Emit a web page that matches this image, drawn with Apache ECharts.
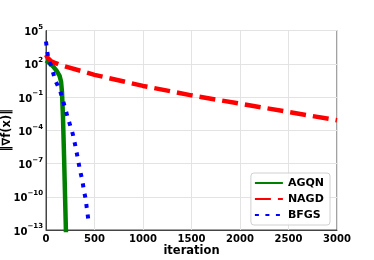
<!DOCTYPE html>
<html>
<head>
<meta charset="utf-8">
<script src="https://cdn.jsdelivr.net/npm/echarts@6/dist/echarts.min.js"></script>
<style>html,body{margin:0;padding:0;background:#fff}#c{width:374px;height:260px}</style>
</head>
<body>
<div id="c"></div>
<script>
// Data (values stored as log10 exponents)
const seriesNames = ['AGQN', 'NAGD', 'BFGS'];
const agqnIter = [0, 30, 75, 110, 140, 155, 165, 175, 186, 196, 206];
const agqnLog10 = [2.3, 2.1, 1.75, 1.35, 0.9, 0.4, -0.6, -2.8, -6.3, -9.8, -13.3];
const nagdIter = [0, 20, 50, 100, 150, 500, 1000, 1500, 2000, 2500, 3000];
const nagdLog10 = [2.8, 2.5, 2.25, 2.05, 1.88, 1.0, 0.0, -0.85, -1.6, -2.35, -3.1];
const bfgsIter = [0, 10, 25, 45, 70, 95, 144, 178, 213, 247, 275, 300, 327, 350, 374, 392, 409, 420, 440];
const bfgsLog10 = [4.0, 3.3, 2.4, 2.0, 1.3, 0.5, -0.4, -1.4, -2.5, -3.5, -4.3, -5.3, -6.5, -7.6, -8.5, -9.5, -10.2, -11.0, -12.3];
const xTicks = [0, 500, 1000, 1500, 2000, 2500, 3000];
const yTickExps = [-13, -10, -7, -4, -1, 2, 5];

const toPairs = (xs, es) => xs.map((x, i) => [x, Math.pow(10, es[i])]);

const chart = echarts.init(document.getElementById('c'), null, {renderer: 'canvas'});
const font = 'DejaVu Sans';
chart.setOption({
  animation: false,
  backgroundColor: '#fff',
  grid: {left: 46, right: 37, top: 30.5, bottom: 30, containLabel: false, outerBoundsMode: 'none',
         show: true, borderColor: '#444', borderWidth: 1, backgroundColor: 'transparent'},
  legend: {
    orient: 'vertical', right: 44, top: 173,
    data: seriesNames,
    itemWidth: 28, itemHeight: 6, itemGap: 4,
    padding: [4, 6, 4, 3],
    backgroundColor: 'rgba(255,255,255,0.85)',
    borderColor: '#d0d0d0', borderWidth: 1, borderRadius: 3,
    itemStyle: {opacity: 0},
    textStyle: {fontFamily: font, fontWeight: 'bold', fontSize: 11, color: '#000', lineHeight: 12}
  },
  xAxis: {
    type: 'value', min: xTicks[0], max: xTicks[xTicks.length - 1], interval: 500,
    name: 'iteration', nameLocation: 'middle', nameGap: 15, nameMoveOverlap: false,
    nameTextStyle: {fontFamily: font, fontWeight: 'bold', fontSize: 11.5, color: '#000'},
    axisLine: {show: true, lineStyle: {color: '#444', width: 1}},
    axisTick: {show: false},
    axisLabel: {fontFamily: font, fontWeight: 'bold', fontSize: 10, color: '#000', margin: 4,
                formatter: v => String(v)},
    splitLine: {show: true, lineStyle: {color: '#e3e3e3', width: 1}}
  },
  yAxis: {
    type: 'log', logBase: 10, min: Math.pow(10, yTickExps[0]), max: Math.pow(10, yTickExps[yTickExps.length - 1]), interval: 3,
    name: '‖∇f(x)‖', nameLocation: 'middle', nameGap: 33, nameRotate: 90, nameMoveOverlap: false,
    nameTextStyle: {fontFamily: font, fontWeight: 'bold', fontSize: 11.5, color: '#000'},
    axisLine: {show: true, lineStyle: {color: '#444', width: 1}},
    axisTick: {show: false},
    axisLabel: {
      margin: 3,
      formatter: function (v) {
        const e = Math.round(Math.log10(v));
        return '{b|10}{s|' + (e < 0 ? '\u2212' + (-e) : e) + '}';
      },
      rich: {
        b: {fontFamily: font, fontWeight: 'bold', fontSize: 10, color: '#000', verticalAlign: 'bottom', lineHeight: 14},
        s: {fontFamily: font, fontWeight: 'bold', fontSize: 7, color: '#000', verticalAlign: 'top', lineHeight: 8}
      }
    },
    splitLine: {show: true, lineStyle: {color: '#e3e3e3', width: 1}}
  },
  series: [
    {name: seriesNames[0], type: 'line', data: toPairs(agqnIter, agqnLog10), showSymbol: false, symbol: 'none', clip: true,
     lineStyle: {color: '#008000', width: 4.5}, itemStyle: {color: '#008000'}},
    {name: seriesNames[1], type: 'line', data: toPairs(nagdIter, nagdLog10), showSymbol: false, symbol: 'none', clip: true,
     lineStyle: {color: '#ff0000', width: 4.5, type: [16, 7]}, itemStyle: {color: '#ff0000'}},
    {name: seriesNames[2], type: 'line', data: toPairs(bfgsIter, bfgsLog10), showSymbol: false, symbol: 'none', clip: true,
     lineStyle: {color: '#0000ff', width: 4, type: [4, 6.5]}, itemStyle: {color: '#0000ff'}}
  ]
});
</script>
</body>
</html>
